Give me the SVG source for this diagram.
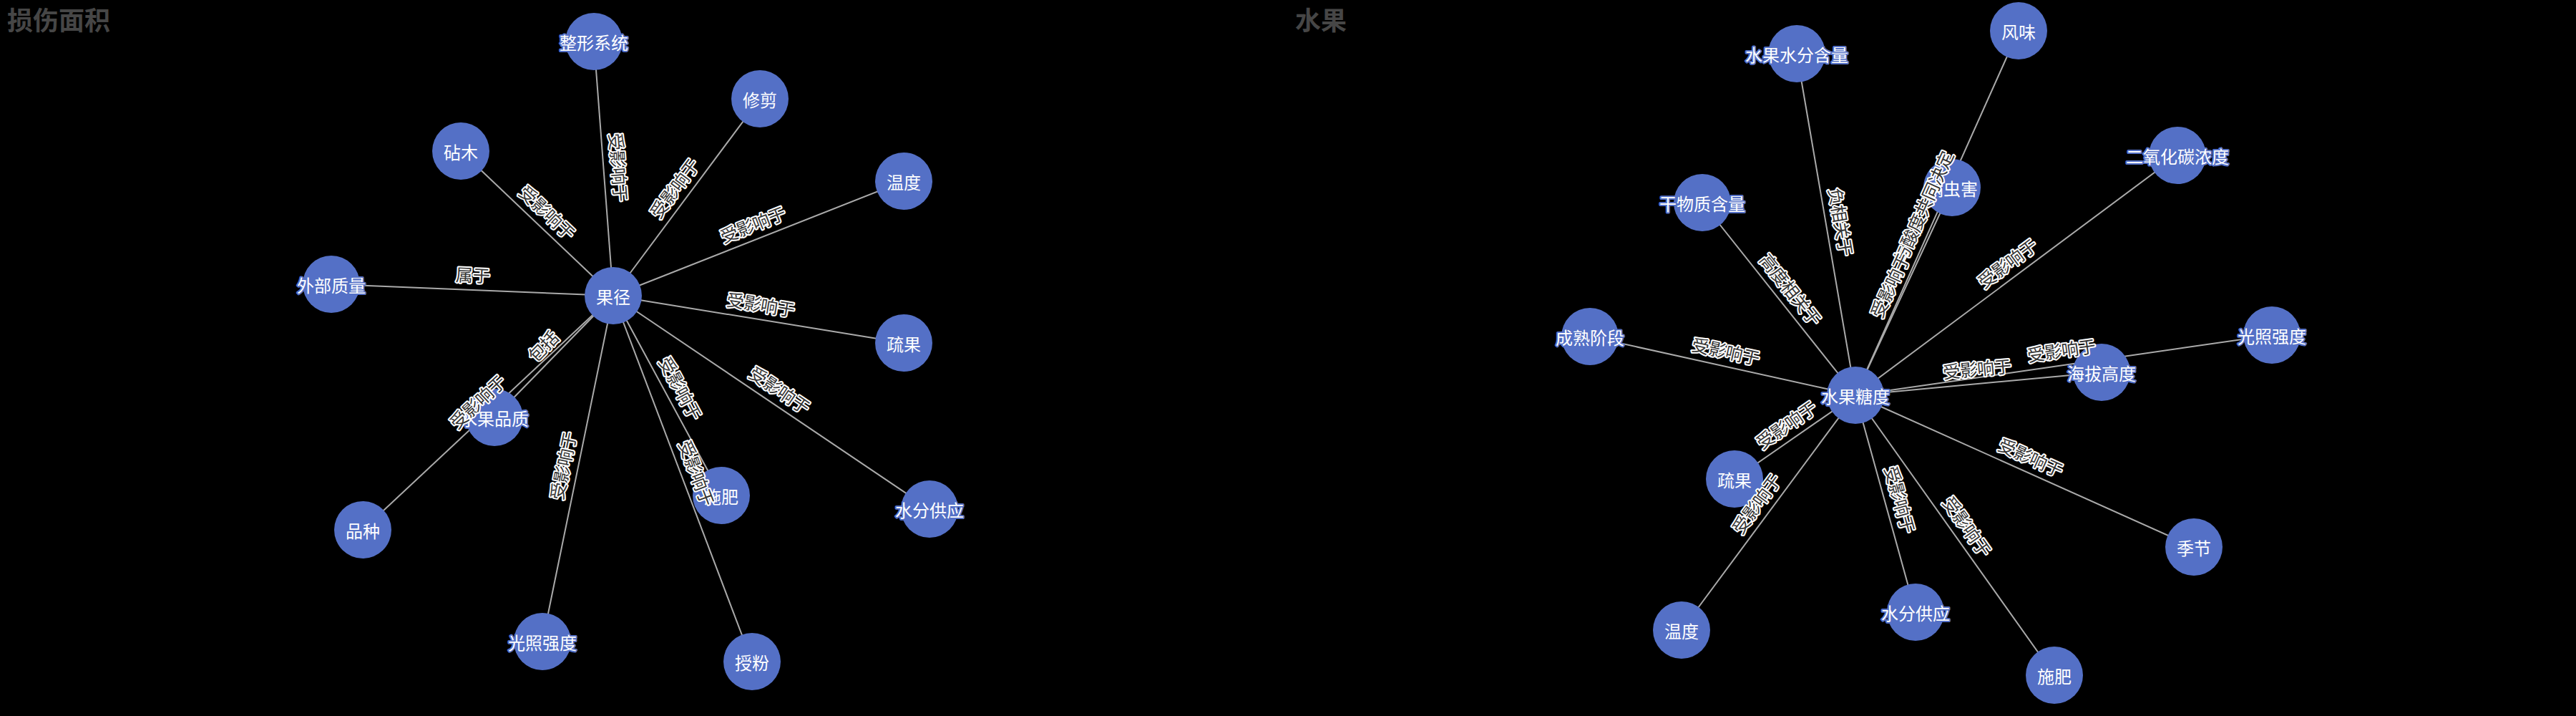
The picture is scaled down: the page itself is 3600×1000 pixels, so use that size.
<svg xmlns="http://www.w3.org/2000/svg" width="3600" height="1000" viewBox="0 0 3600 1000">
<style>
.bg{fill:#000}
.title{font-family:"Noto Sans CJK SC","Noto Sans",sans-serif;font-size:36px;font-weight:bold;fill:#464646}
.edge{stroke:#aaa;stroke-width:2;fill:none}
.node circle{fill:#5470c6}
.node text{font-family:"Noto Sans CJK SC","Noto Sans",sans-serif;font-size:24px;fill:#fff;stroke:#5470c6;stroke-width:4;paint-order:stroke;stroke-linejoin:round;text-anchor:middle;dominant-baseline:central}
.elabel text{font-family:"Noto Sans CJK SC","Noto Sans",sans-serif;font-size:24px;fill:#333;stroke:#fff;stroke-width:4;paint-order:stroke;stroke-linejoin:round;text-anchor:middle;dominant-baseline:central}
</style>
<rect class="bg" x="0" y="0" width="3600" height="1000"/>
<text class="title" x="10" y="42">损伤面积</text>
<text class="title" x="1810" y="42">水果</text>

<g id="connectors">
  <line class="edge" x1="857" y1="413" x2="644" y2="211"/>
  <line class="edge" x1="857" y1="413" x2="830" y2="58"/>
  <line class="edge" x1="857" y1="413" x2="1062" y2="138"/>
  <line class="edge" x1="857" y1="413" x2="1263" y2="253"/>
  <line class="edge" x1="857" y1="413" x2="1263" y2="479"/>
  <line class="edge" x1="857" y1="413" x2="463" y2="397"/>
  <line class="edge" x1="857" y1="413" x2="691" y2="583"/>
  <line class="edge" x1="857" y1="413" x2="507" y2="740"/>
  <line class="edge" x1="857" y1="413" x2="758" y2="896"/>
  <line class="edge" x1="857" y1="413" x2="1008" y2="692"/>
  <line class="edge" x1="857" y1="413" x2="1051" y2="924"/>
  <line class="edge" x1="857" y1="413" x2="1299" y2="711"/>

  <line class="edge" x1="2593" y1="552" x2="2511" y2="75"/>
  <line class="edge" x1="2593" y1="552" x2="2379" y2="283"/>
  <line class="edge" x1="2593" y1="552" x2="2821" y2="43"/>
  <line class="edge" x1="2593" y1="552" x2="2728" y2="262"/>
  <line class="edge" x1="2593" y1="552" x2="3043" y2="217"/>
  <line class="edge" x1="2593" y1="552" x2="2222" y2="470"/>
  <line class="edge" x1="2593" y1="552" x2="2937" y2="520"/>
  <line class="edge" x1="2593" y1="552" x2="3175" y2="468"/>
  <line class="edge" x1="2593" y1="552" x2="2424" y2="669"/>
  <line class="edge" x1="2593" y1="552" x2="2350" y2="880"/>
  <line class="edge" x1="2593" y1="552" x2="2677" y2="855"/>
  <line class="edge" x1="2593" y1="552" x2="2871" y2="943"/>
  <line class="edge" x1="2593" y1="552" x2="3066" y2="764"/>
</g>

<g id="node-guojing" class="node"><circle cx="857" cy="413" r="40"/><text x="857" y="413">果径</text></g>
<g id="node-zhengxing" class="node"><circle cx="830" cy="58" r="40"/><text x="830" y="58">整形系统</text></g>
<g id="node-xiujian" class="node"><circle cx="1062" cy="138" r="40"/><text x="1062" y="138">修剪</text></g>
<g id="node-zhenmu" class="node"><circle cx="644" cy="211" r="40"/><text x="644" y="211">砧木</text></g>
<g id="node-wendu1" class="node"><circle cx="1263" cy="253" r="40"/><text x="1263" y="253">温度</text></g>
<g id="node-shuguo1" class="node"><circle cx="1263" cy="479" r="40"/><text x="1263" y="479">疏果</text></g>
<g id="node-waibu" class="node"><circle cx="463" cy="397" r="40"/><text x="463" y="397">外部质量</text></g>
<g id="node-pinzhi" class="node"><circle cx="691" cy="583" r="40"/><text x="691" y="583">水果品质</text></g>
<g id="node-pinzhong" class="node"><circle cx="507" cy="740" r="40"/><text x="507" y="740">品种</text></g>
<g id="node-guangzhao1" class="node"><circle cx="758" cy="896" r="40"/><text x="758" y="896">光照强度</text></g>
<g id="node-shifei1" class="node"><circle cx="1008" cy="692" r="40"/><text x="1008" y="692">施肥</text></g>
<g id="node-shoufen" class="node"><circle cx="1051" cy="924" r="40"/><text x="1051" y="924">授粉</text></g>
<g id="node-shuifen1" class="node"><circle cx="1299" cy="711" r="40"/><text x="1299" y="711">水分供应</text></g>

<g id="node-tangdu" class="node"><circle cx="2593" cy="552" r="40"/><text x="2593" y="552">水果糖度</text></g>
<g id="node-hanshui" class="node"><circle cx="2511" cy="75" r="40"/><text x="2511" y="75">水果水分含量</text></g>
<g id="node-ganwu" class="node"><circle cx="2379" cy="283" r="40"/><text x="2379" y="283">干物质含量</text></g>
<g id="node-fengwei" class="node"><circle cx="2821" cy="43" r="40"/><text x="2821" y="43">风味</text></g>
<g id="node-chonghai" class="node"><circle cx="2728" cy="262" r="40"/><text x="2728" y="262">病虫害</text></g>
<g id="node-co2" class="node"><circle cx="3043" cy="217" r="40"/><text x="3043" y="217">二氧化碳浓度</text></g>
<g id="node-chengshu" class="node"><circle cx="2222" cy="470" r="40"/><text x="2222" y="470">成熟阶段</text></g>
<g id="node-haiba" class="node"><circle cx="2937" cy="520" r="40"/><text x="2937" y="520">海拔高度</text></g>
<g id="node-guangzhao2" class="node"><circle cx="3175" cy="468" r="40"/><text x="3175" y="468">光照强度</text></g>
<g id="node-shuguo2" class="node"><circle cx="2424" cy="669" r="40"/><text x="2424" y="669">疏果</text></g>
<g id="node-wendu2" class="node"><circle cx="2350" cy="880" r="40"/><text x="2350" y="880">温度</text></g>
<g id="node-shuifen2" class="node"><circle cx="2677" cy="855" r="40"/><text x="2677" y="855">水分供应</text></g>
<g id="node-shifei2" class="node"><circle cx="2871" cy="943" r="40"/><text x="2871" y="943">施肥</text></g>
<g id="node-jijie" class="node"><circle cx="3066" cy="764" r="40"/><text x="3066" y="764">季节</text></g>

<g id="connector-labels" class="elabel">
  <text transform="translate(750.5,312) rotate(43.5)" y="-22">受影响于</text>
  <text transform="translate(843.5,235.5) rotate(85.65)" y="-22">受影响于</text>
  <text transform="translate(959.5,275.5) rotate(-53.3)" y="-22">受影响于</text>
  <text transform="translate(1060,333) rotate(-21.5)" y="-22">受影响于</text>
  <text transform="translate(1060,446) rotate(9.23)" y="-22">受影响于</text>
  <text transform="translate(660,405) rotate(2.33)" y="-22">属于</text>
  <text transform="translate(774,498) rotate(-45.7)" y="-22">包括</text>
  <text transform="translate(682,576.5) rotate(-43.06)" y="-22">受影响于</text>
  <text transform="translate(807.5,654.5) rotate(-78.42)" y="-22">受影响于</text>
  <text transform="translate(932.5,552.5) rotate(61.58)" y="-22">受影响于</text>
  <text transform="translate(954,668.5) rotate(69.2)" y="-22">受影响于</text>
  <text transform="translate(1078,562) rotate(33.99)" y="-22">受影响于</text>

  <text transform="translate(2552,313.5) rotate(80.25)" y="-22">负相关于</text>
  <text transform="translate(2486,417.5) rotate(51.49)" y="-22">高度相关于</text>
  <text transform="translate(2707,297.5) rotate(-65.87)" y="-22">与酸度共同决定</text>
  <text transform="translate(2660.5,407) rotate(-65.04)" y="-22">受影响于</text>
  <text transform="translate(2818,384.5) rotate(-36.67)" y="-22">受影响于</text>
  <text transform="translate(2407.5,511) rotate(12.46)" y="-22">受影响于</text>
  <text transform="translate(2765,536) rotate(-5.31)" y="-22">受影响于</text>
  <text transform="translate(2884,510) rotate(-8.21)" y="-22">受影响于</text>
  <text transform="translate(2508.5,610.5) rotate(-34.7)" y="-22">受影响于</text>
  <text transform="translate(2471.5,716) rotate(-53.47)" y="-22">受影响于</text>
  <text transform="translate(2635,703.5) rotate(74.5)" y="-22">受影响于</text>
  <text transform="translate(2732,747.5) rotate(54.6)" y="-22">受影响于</text>
  <text transform="translate(2829.5,658) rotate(24.14)" y="-22">受影响于</text>
</g>
</svg>
